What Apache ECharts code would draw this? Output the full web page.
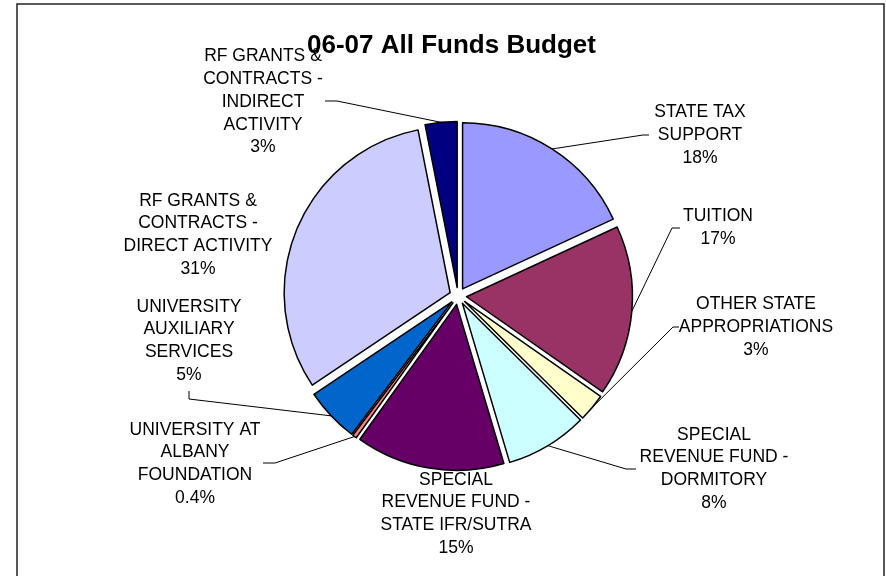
<!DOCTYPE html>
<html>
<head>
<meta charset="utf-8">
<script src="https://cdn.jsdelivr.net/npm/echarts@6/dist/echarts.min.js"></script>
<style>
html,body{margin:0;padding:0;background:#fff;}
#chart{width:886px;height:576px;}
</style>
</head>
<body>
<div id="chart"></div>
<script>
// ---- data ----
const title = '06-07 All Funds Budget';
const categories = [
  'STATE TAX\nSUPPORT',
  'TUITION',
  'OTHER STATE\nAPPROPRIATIONS',
  'SPECIAL\nREVENUE FUND -\nDORMITORY',
  'SPECIAL\nREVENUE FUND -\nSTATE IFR/SUTRA',
  'UNIVERSITY AT\nALBANY\nFOUNDATION',
  'UNIVERSITY\nAUXILIARY\nSERVICES',
  'RF GRANTS &\nCONTRACTS -\nDIRECT ACTIVITY',
  'RF GRANTS &\nCONTRACTS -\nINDIRECT\nACTIVITY'
];
const shares = [18.1, 16.6, 2.7, 8.0, 14.5, 0.4, 5.3, 31.3, 3.1];
const colors = ['#9999FF', '#993366', '#FFFFCC', '#CCFFFF', '#660066', '#FF8080', '#0066CC', '#CCCCFF', '#000080'];

// ---- label placement (layout only) ----
const labelBox = [
  {c: [700, 135], line: [[643, 135], [649, 135]]},
  {c: [718, 228], line: [[672, 228], [680, 228]]},
  {c: [756, 327], line: [[673, 327], [679, 327]]},
  {c: [714, 469], line: [[626, 469], [636, 469]]},
  {c: [456, 514], line: null},
  {c: [195, 464], line: [[275, 463], [263, 463]]},
  {c: [189, 341], line: [[189, 399], [189, 391]]},
  {c: [198, 235], line: null},
  {c: [263, 102], line: [[337, 101], [325, 101]]}
];

const CENTER = [458, 296];
const R = 166;
const EXPLODE = 8.5;

function pctText(v) {
  return (v < 1 ? v.toFixed(1) : Math.round(v)) + '%';
}

const chart = echarts.init(document.getElementById('chart'), null, {renderer: 'canvas'});

const sliceData = categories.map((name, i) => ({
  name: name, value: shares[i], selected: true, itemStyle: {color: colors[i]}
}));
const labelData = categories.map((name, i) => ({
  name: name, value: shares[i],
  labelLine: {show: !!labelBox[i].line}
}));

const font = 'Liberation Sans, Arial, sans-serif';

chart.setOption({
  animation: false,
  backgroundColor: '#fff',
  title: {
    text: title,
    left: 302,
    top: 28,
    textStyle: {fontFamily: font, fontSize: 26, fontWeight: 'bold', color: '#000'}
  },
  graphic: [{
    type: 'rect',
    shape: {x: 17, y: 4, width: 867, height: 600},
    style: {fill: 'none', stroke: '#222', lineWidth: 1.5},
    z: 100,
    silent: true
  }],
  series: [{
    // exploded slices
    type: 'pie',
    center: CENTER,
    radius: R,
    startAngle: 90,
    clockwise: true,
    selectedMode: 'multiple',
    selectedOffset: EXPLODE,
    silent: true,
    itemStyle: {borderColor: '#000', borderWidth: 1.5},
    select: {itemStyle: {borderColor: '#000', borderWidth: 1.5}},
    emphasis: {disabled: true},
    label: {show: false},
    labelLine: {show: false},
    data: sliceData
  }, {
    // labels and leader lines (invisible carrier reaching the exploded rim)
    type: 'pie',
    center: CENTER,
    radius: R + EXPLODE,
    startAngle: 90,
    clockwise: true,
    silent: true,
    z: 3,
    avoidLabelOverlap: false,
    itemStyle: {color: 'rgba(0,0,0,0)', borderWidth: 0},
    emphasis: {disabled: true},
    label: {
      show: true,
      position: 'outside',
      formatter: p => p.name + '\n' + pctText(p.value),
      fontFamily: font,
      fontSize: 17.5,
      lineHeight: 22.8,
      color: '#000',
      align: 'center'
    },
    labelLine: {show: true, length: 10, length2: 10, lineStyle: {color: '#000', width: 1}},
    labelLayout: function (params) {
      const b = labelBox[params.dataIndex];
      const out = {x: b.c[0], y: b.c[1], align: 'center', verticalAlign: 'middle'};
      if (b.line && params.labelLinePoints) {
        out.labelLinePoints = [params.labelLinePoints[0], b.line[0], b.line[1]];
      }
      return out;
    },
    data: labelData
  }]
});
</script>
</body>
</html>
